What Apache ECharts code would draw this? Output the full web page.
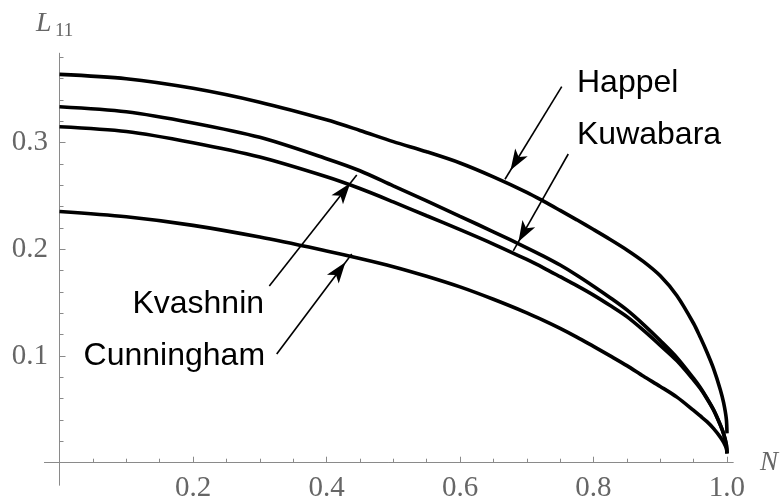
<!DOCTYPE html>
<html>
<head>
<meta charset="utf-8">
<script src="https://cdn.jsdelivr.net/npm/echarts@6/dist/echarts.min.js"></script>
<style>
html,body{margin:0;padding:0;background:#fff;}
#chart{width:781px;height:504px;}
</style>
</head>
<body>
<div id="chart"></div>
<script>
// ---- data ----
const xs = [0, 0.1, 0.2, 0.3, 0.4, 0.45, 0.5, 0.55, 0.6, 0.65, 0.7, 0.725, 0.75, 0.775, 0.8, 0.825, 0.85, 0.875, 0.9, 0.925, 0.95, 0.96, 0.97, 0.98, 0.99, 0.995, 0.999, 1.0];
const happel     = [0.364, 0.360, 0.351, 0.338, 0.3215, 0.3115, 0.301, 0.2915, 0.281, 0.268, 0.2535, 0.2452, 0.2365, 0.2277, 0.2186, 0.2093, 0.1995, 0.1885, 0.1752, 0.1565, 0.1305, 0.1175, 0.1035, 0.088, 0.0685, 0.056, 0.041, 0.0275];
const kvashnin   = [0.3337, 0.329, 0.3185, 0.305, 0.285, 0.2737, 0.2595, 0.2455, 0.231, 0.2165, 0.2015, 0.1937, 0.1853, 0.1758, 0.1655, 0.1547, 0.1432, 0.1295, 0.1145, 0.0985, 0.079, 0.0705, 0.0605, 0.0495, 0.0355, 0.027, 0.017, 0.0088];
const kuwabara   = [0.315, 0.3105, 0.3, 0.2865, 0.268, 0.257, 0.2445, 0.2315, 0.2185, 0.205, 0.1905, 0.1827, 0.1744, 0.166, 0.1571, 0.1473, 0.1369, 0.124, 0.110, 0.0955, 0.0775, 0.0695, 0.060, 0.0492, 0.0353, 0.027, 0.017, 0.0088];
const cunningham = [0.2355, 0.2305, 0.2225, 0.2115, 0.1985, 0.1915, 0.1838, 0.1748, 0.1648, 0.1532, 0.1405, 0.1335, 0.126, 0.1178, 0.109, 0.1001, 0.091, 0.081, 0.0715, 0.0615, 0.049, 0.0438, 0.0385, 0.032, 0.024, 0.019, 0.0135, 0.0088];

const xMajorTicks = [0.2, 0.4, 0.6, 0.8, 1.0];
const xMinorTicks = [0.05, 0.1, 0.15, 0.25, 0.3, 0.35, 0.45, 0.5, 0.55, 0.65, 0.7, 0.75, 0.85, 0.9, 0.95];
const yMajorTicks = [0.1, 0.2, 0.3];
const yMinorTicks = [0.02, 0.04, 0.06, 0.08, 0.12, 0.14, 0.16, 0.18, 0.22, 0.24, 0.26, 0.28, 0.32, 0.34, 0.36, 0.38];

// annotation arrows: [fromX, fromY, toX, toY]
const arrowHappel     = [0.7524, 0.3525, 0.6674, 0.2657];
const arrowKuwabara   = [0.7622, 0.2894, 0.6798, 0.1985];
const arrowKvashnin   = [0.3143, 0.1657, 0.4453, 0.2697];
const arrowCunningham = [0.3254, 0.1019, 0.4378, 0.1957];

// label anchors (data coords)
const labelHappel     = ['Happel', 0.7753, 0.3555, 'left'];
const labelKuwabara   = ['Kuwabara', 0.7753, 0.3067, 'left'];
const labelKvashnin   = ['Kvashnin', 0.3064, 0.1488, 'right'];
const labelCunningham = ['Cunningham', 0.3079, 0.1000, 'right'];

const X_MIN = -0.0225, X_MAX = 1.009, Y_MIN = -0.0209, Y_MAX = 0.3838;
const AXIS_COLOR = '#8a8a8a';
const LABEL_COLOR = '#666';
const SERIF = '"Liberation Serif", "DejaVu Serif", serif';
const SANS = '"Liberation Sans", Arial, sans-serif';

function pairs(ys){ return xs.map((x,i)=>[x, ys[i]]); }
function arrowLine(a){
  return {
    silent: true, animation: false,
    symbol: ['none', 'arrow'],
    label: {show: false},
    emphasis: {disabled: true},
    itemStyle: {color: '#000'},
    lineStyle: {color: '#000', width: 1.6, type: 'solid'},
    data: [[{coord: [a[0], a[1]], symbol: 'none'},
            {coord: [a[2], a[3]], symbol: 'arrow', symbolSize: [11, 21], symbolOffset: [0, 10.5], itemStyle: {color: '#000'}}]]
  };
}
function curve(name, ys, arrow){
  return {
    name, type: 'line', data: pairs(ys), smooth: 0.3,
    showSymbol: false, symbol: 'none', clip: false,
    lineStyle: {color: '#000', width: 3.6},
    emphasis: {disabled: true},
    markLine: arrowLine(arrow)
  };
}

const chart = echarts.init(document.getElementById('chart'));
const fmt = v => v.toFixed(1);
const option = {
  animation: false,
  backgroundColor: '#fff',
  grid: {left: 44.5, right: 48, top: 53.3, bottom: 19, containLabel: false, outerBoundsMode: 'none'},
  xAxis: [
    {
      type: 'value', min: X_MIN, max: X_MAX, position: 'bottom',
      name: 'N', nameLocation: 'end', nameGap: 27,
      nameTextStyle: {fontFamily: SERIF, fontStyle: 'italic', fontSize: 27, color: LABEL_COLOR, verticalAlign: 'middle'},
      axisLine: {onZero: true, lineStyle: {color: AXIS_COLOR, width: 1}},
      axisTick: {show: true, inside: true, length: 6, customValues: xMajorTicks, lineStyle: {color: AXIS_COLOR}},
      axisLabel: {customValues: xMajorTicks, formatter: fmt, fontFamily: SERIF, fontSize: 29, color: LABEL_COLOR, margin: -11},
      splitLine: {show: false}
    },
    {
      type: 'value', min: X_MIN, max: X_MAX, position: 'bottom',
      axisLine: {onZero: true, lineStyle: {color: AXIS_COLOR, width: 1}},
      axisTick: {show: true, inside: true, length: 4, customValues: xMinorTicks, lineStyle: {color: AXIS_COLOR}},
      axisLabel: {show: false},
      splitLine: {show: false}
    }
  ],
  yAxis: [
    {
      type: 'value', min: Y_MIN, max: Y_MAX, position: 'left',
      axisLine: {onZero: true, lineStyle: {color: AXIS_COLOR, width: 1}},
      axisTick: {show: true, inside: true, length: 6, customValues: yMajorTicks, lineStyle: {color: AXIS_COLOR}},
      axisLabel: {customValues: yMajorTicks, formatter: fmt, fontFamily: SERIF, fontSize: 29, color: LABEL_COLOR, margin: -3.5},
      splitLine: {show: false}
    },
    {
      type: 'value', min: Y_MIN, max: Y_MAX, position: 'left',
      axisLine: {onZero: true, lineStyle: {color: AXIS_COLOR, width: 1}},
      axisTick: {show: true, inside: true, length: 4, customValues: yMinorTicks, lineStyle: {color: AXIS_COLOR}},
      axisLabel: {show: false},
      splitLine: {show: false}
    }
  ],
  series: [
    curve('Happel', happel, arrowHappel),
    curve('Kvashnin', kvashnin, arrowKvashnin),
    curve('Kuwabara', kuwabara, arrowKuwabara),
    curve('Cunningham', cunningham, arrowCunningham)
  ]
};
chart.setOption(option);

const labels = [labelHappel, labelKuwabara, labelKvashnin, labelCunningham];
const graphics = labels.map(l => {
  const p = chart.convertToPixel({gridIndex: 0}, [l[1], l[2]]);
  return {
    type: 'text', x: p[0], y: p[1], silent: true,
    style: {text: l[0], fontFamily: SANS, fontSize: 32, fill: '#000',
            align: l[3], textAlign: l[3], verticalAlign: 'middle', textVerticalAlign: 'middle'}
  };
});
// y-axis title L11
graphics.push({type: 'text', x: 36, y: 23.5, silent: true,
  style: {text: 'L', fontFamily: SERIF, fontStyle: 'italic', fontSize: 28, fill: LABEL_COLOR,
          align: 'left', textAlign: 'left', verticalAlign: 'middle', textVerticalAlign: 'middle'}});
graphics.push({type: 'text', x: 55, y: 31.5, silent: true,
  style: {text: '11', fontFamily: SERIF, fontSize: 19, fill: LABEL_COLOR,
          align: 'left', textAlign: 'left', verticalAlign: 'middle', textVerticalAlign: 'middle'}});
chart.setOption({graphic: graphics});
</script>
</body>
</html>
